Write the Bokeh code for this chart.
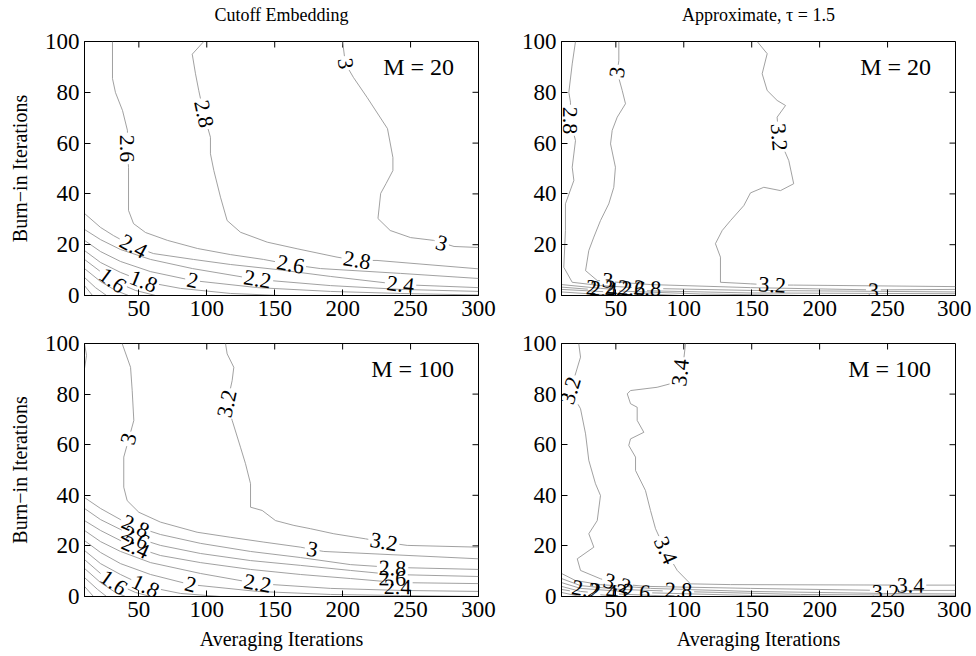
import math
from bokeh.plotting import figure
from bokeh.layouts import column, row
from bokeh.models import Range1d, FixedTicker, ColumnDataSource
from bokeh.core.properties import value
from bokeh.embed import file_html
from bokeh.resources import INLINE

FONT = "Liberation Serif"

# ---------------- data ----------------
x_ticks = [50, 100, 150, 200, 250, 300]
y_ticks = [0, 20, 40, 60, 80, 100]
x_limits = (10, 300)
y_limits = (0, 100)

column_titles = ["Cutoff Embedding", "Approximate, \u03c4 = 1.5"]
m_labels = ["M = 20", "M = 20", "M = 100", "M = 100"]
x_axis_label = "Averaging Iterations"
y_axis_label = "Burn\u2212in Iterations"

# contour lines: (level, averaging iterations, burn-in iterations)
cutoff_m20_contours = [
    (3.0, [200, 202, 208, 218, 233, 237, 237, 232, 228, 226, 235, 250, 267, 282, 300],
          [100, 91.3, 85.8, 78, 65.7, 54.3, 49.2, 44.1, 40.2, 30.3, 25.6, 22.8, 21.7, 19.3, 18.9]),
    (2.8, [97.8, 89.3, 91.7, 94.1, 97.8, 102.7, 102.7, 105.2, 110.1, 115, 124.8, 144.5, 166.5, 195.9, 210.6, 225.3, 300],
          [100, 95, 87.3, 80.7, 71.5, 62.3, 55.8, 49.2, 38.7, 29.5, 24.9, 21, 18.4, 15.1, 13.8, 13.8, 10.5]),
    (2.6, [30.6, 30.6, 32.8, 38, 41.6, 41.6, 42.4, 42.4, 46.1, 54.9, 71.1, 93.2, 117.5, 141.7, 161.6, 183.7, 242.6, 300],
          [100, 85.4, 79.9, 72.8, 65, 57.9, 50.4, 33.5, 28.3, 24.8, 21.7, 18.5, 16.1, 14.2, 12.2, 10.6, 8.7, 6.7]),
    (2.4, [10, 21.8, 31.3, 46.1, 60.8, 90.2, 117.5, 152, 191.1, 242.6, 300],
          [32.3, 26.8, 23.6, 19.3, 16.5, 14.2, 12.2, 10.2, 7.5, 4.3, 3.1]),
    (2.2, [10, 21.8, 36.5, 58.6, 89.5, 137.3, 191.1, 242.6, 300],
          [26, 22, 18.1, 14.2, 10.6, 6.3, 3.9, 2.4, 1.6]),
    (2.0, [10, 21.8, 36.5, 58.6, 89.5, 137.3, 191.1, 242.6, 300],
          [21.7, 17.3, 13.4, 9.4, 5.9, 3.1, 1.6, 0.8, 0.2]),
    (1.8, [10, 21.8, 36.5, 53.4, 80.7, 117.5, 154.3],
          [17.7, 13, 9.1, 5.5, 2.8, 0.8, 0]),
    (1.6, [10, 21.8, 30.6, 47.5, 62.3], [14.2, 9.4, 5.9, 2, 0]),
    (1.4, [10, 21.8, 32.8, 42.4], [10.6, 5.5, 2, 0]),
    (1.2, [10, 18.1, 26.2], [7.1, 3.1, 0]),
    (1.0, [10, 15.9], [3.9, 0]),
]
cutoff_m20_labels = [
    (3.0, 202, 91.3), (3.0, 272.8, 20.5), (2.8, 97.8, 71.5), (2.8, 210.6, 13.8),
    (2.6, 41.6, 57.9), (2.6, 161.6, 12.2), (2.4, 46.1, 19.3), (2.4, 242.6, 4.3),
    (2.2, 137.3, 6.3), (2.0, 89.5, 5.9), (1.8, 53.4, 5.5), (1.6, 30.6, 5.9),
]

approx_m20_contours = [
    (3.2, [154, 161.4, 157.7, 161.4, 168.7, 174.9, 168.7, 169.9, 177.3, 180.9, 171.2, 158.9, 149.1, 144.2, 134.4, 128.3, 123.3, 127, 127, 149.1, 165.1, 180.8, 300],
          [100, 95.2, 87.3, 80.7, 76.8, 74.8, 70.2, 62.3, 53.1, 44, 41.3, 42.6, 40.4, 35.4, 29.5, 25.6, 20.4, 15.1, 5.2, 4.6, 4.1, 4.1, 3.5]),
    (3.0, [52.2, 52.2, 51, 54.7, 57.1, 51, 47.3, 46.1, 49.7, 48.5, 44.8, 38.7, 33.8, 30.1, 27.7, 36.3, 43.9, 75.5, 149.1, 239.6, 300],
          [100, 92.5, 87.9, 80.7, 75.5, 70.2, 65, 59.7, 50.5, 42.6, 36.1, 29.5, 23, 17.7, 9.8, 5.9, 5.5, 4.3, 3.1, 2.2, 2.4]),
    (2.8, [20.3, 17.9, 15.4, 16.6, 16.6, 20.3, 17.9, 19.1, 12.9, 12.9, 11.7, 17.9, 38.7, 73.3, 149.1, 300],
          [100, 91.2, 80, 76.1, 68.9, 61, 50.5, 45.3, 36.1, 25.6, 11.1, 5.2, 3.9, 2.8, 2, 1.4]),
    (2.6, [10, 38.7, 61.5, 149.1, 300], [4.3, 2.8, 2, 1, 0.7]),
    (2.4, [10, 40.9, 112.3, 185.9], [3.3, 2, 0.6, 0]),
    (2.2, [10, 52, 97.6], [2.4, 1.2, 0]),
    (2.0, [10, 32.1, 53.4], [1.4, 0.6, 0]),
]
approx_m20_labels = [
    (2.8, 16.6, 68.9), (3.0, 51, 87.9), (3.2, 169.9, 62.3), (3.2, 165.1, 4.1),
    (3.0, 43.9, 5.9), (3.0, 239.6, 1.8), (2.0, 32.1, 3.1), (2.4, 40.9, 2.4),
    (2.2, 52, 2.8), (2.6, 61.5, 2.8), (2.8, 73.3, 2.8),
]

cutoff_m100_contours = [
    (3.2, [113.8, 115, 119.9, 118.7, 115, 118.7, 124.8, 128.5, 132.2, 132.2, 140.8, 150.6, 164.1, 176.3, 193.5, 216.8, 230.3, 247.5, 300],
          [100, 95.9, 90.6, 85.4, 76.2, 69.6, 59, 52.5, 44.6, 35.3, 34, 30, 28.1, 26.8, 24.8, 22.8, 21.5, 20.2, 19.5]),
    (3.0, [37.7, 43.9, 45.1, 46.3, 42.6, 38.9, 38.9, 41.4, 50, 65.9, 92.9, 117.5, 142, 169, 177.6, 186.1, 300],
          [100, 90.6, 81.4, 69.6, 62.3, 55.1, 43.2, 37.9, 33.3, 29.4, 25.4, 23.4, 21.5, 19.5, 18.6, 17.8, 14.9]),
    (2.8, [10, 11.5, 10], [100, 95.3, 90.1]),
    (2.8, [10, 21.8, 36.5, 47.5, 65.9, 95.4, 132.2, 169, 205.8, 236.7, 300],
          [39.1, 34.8, 30.4, 27.7, 24.5, 21, 17.8, 15.4, 12.6, 11.5, 10.7]),
    (2.6, [10, 21.8, 36.5, 47.5, 65.9, 95.4, 132.2, 169, 205.8, 236.7, 300],
          [34.8, 30.4, 26.5, 23.3, 20.2, 17, 14.2, 12.3, 10.3, 8.7, 7.9]),
    (2.4, [10, 21.8, 36.5, 47.5, 65.9, 95.4, 132.2, 169, 205.8, 240.4, 300],
          [30, 26.1, 22.1, 19.4, 16.2, 13.4, 10.7, 8.7, 7.1, 5.5, 5.1]),
    (2.2, [10, 21.8, 36.5, 58.6, 95.4, 137.3, 191.1, 242.6, 300],
          [26.1, 21.7, 17.8, 13.4, 9.1, 5.1, 3.2, 2.4, 2]),
    (2.0, [10, 21.8, 36.5, 58.6, 88, 137.3, 191.1, 242.6, 300],
          [22.1, 17.4, 13, 8.7, 4.7, 2, 0.8, 0.4, 0]),
    (1.8, [10, 21.8, 36.5, 54.9, 80.7, 110.1], [18.2, 13, 8.7, 4, 1.2, 0]),
    (1.6, [10, 21.8, 31.3, 47.5, 58.6], [14.6, 9.1, 5.5, 1.6, 0]),
    (1.4, [10, 21.8, 32.8, 40.2], [11.1, 5.5, 1.6, 0]),
    (1.2, [10, 19.6, 26.2], [7.5, 2.8, 0]),
    (1.0, [10, 16.6], [4, 0]),
]
cutoff_m100_labels = [
    (3.2, 115, 76.2), (3.2, 230.3, 21.5), (3.0, 42.6, 62.3), (3.0, 177.6, 18.6),
    (2.8, 47.5, 27.7), (2.8, 236.7, 11.1), (2.6, 47.5, 23.3), (2.6, 236.7, 7.1),
    (2.4, 47.5, 19.4), (2.4, 240.4, 3.7), (2.2, 137.3, 5.1), (2.0, 88, 4.7),
    (1.8, 54.9, 4), (1.6, 31.3, 5.5),
]

approx_m100_contours = [
    (3.4, [101.3, 98.8, 90.2, 80.4, 60.8, 58.4, 60.8, 65.7, 65.7, 70.6, 60.8, 59.5, 64.5, 64.5, 71.8, 75.5, 79.2, 86.5, 95.2, 104.9, 134.4, 266.9, 300],
          [100, 88, 84.1, 82.7, 81.4, 80.1, 76.2, 74.8, 69.6, 64.9, 62.3, 59.7, 55.1, 49.8, 41.9, 34, 26.8, 18.2, 10.3, 5, 4.7, 4.5, 4.5]),
    (3.2, [22.7, 24, 16.6, 24, 27.7, 30.1, 35, 38.7, 36.3, 30.1, 33.8, 21.6, 24, 38.7, 51, 72.6, 149.1, 247, 300],
          [100, 94.6, 81.4, 74.2, 64.3, 53.8, 44.6, 39.9, 30, 24.8, 19.5, 14.9, 10.3, 7, 5, 4, 3.2, 2.4, 2.4]),
    (3.0, [10, 20.3, 38.7, 75.5, 149.1, 247, 300], [9.1, 6.3, 4.7, 3.2, 2, 1.2, 1]),
    (2.8, [10, 24, 53.4, 96.1, 185.9, 300], [7.1, 4.3, 2.8, 2, 0.8, 0.4]),
    (2.6, [10, 24, 65.2, 149.1, 222.7], [5.5, 3.2, 1.6, 0.4, 0]),
    (2.4, [10, 24, 40.9, 97.6], [4, 2, 1.2, 0]),
    (2.2, [10, 27.7, 53.4], [2.8, 1.2, 0]),
    (2.0, [10, 24], [1.6, 0]),
]
approx_m100_labels = [
    (3.2, 16.6, 81.4), (3.2, 51, 5), (3.4, 97.6, 88.5), (3.4, 86.5, 18.2),
    (3.4, 266.9, 4.3), (3.2, 248.5, 1.8), (2.2, 27.7, 2.8), (2.4, 40.9, 2),
    (3.0, 54.2, 1.8), (2.6, 65.2, 1.8), (2.8, 96.1, 2.4),
]

# ---------------- helpers ----------------
FRAME_W = 394
LABEL_FS = 22
TICK_FS = "23px"
LINE_COLOR = "#909090"
TITLE_H = 26


def fmt(level):
    return f"{level:g}"


def text_width(s, fs):
    return sum(0.25 * fs if ch == "." else 0.5 * fs for ch in s)


def nearest_angle(pieces, lx, ly, sx, sy):
    best = None
    px, py = lx * sx, ly * sy
    for xs, ys in pieces:
        for i in range(len(xs) - 1):
            ax, ay = xs[i] * sx, ys[i] * sy
            bx, by = xs[i + 1] * sx, ys[i + 1] * sy
            dx, dy = bx - ax, by - ay
            l2 = dx * dx + dy * dy
            if l2 == 0:
                continue
            t = max(0.0, min(1.0, ((px - ax) * dx + (py - ay) * dy) / l2))
            qx, qy = ax + t * dx, ay + t * dy
            d = (px - qx) ** 2 + (py - qy) ** 2
            if best is None or d < best[0]:
                best = (d, math.degrees(math.atan2(dy, dx)))
    ang = best[1] if best else 0.0
    if ang > 90:
        ang -= 180
    if ang < -90:
        ang += 180
    return ang


def cut_line(xs, ys, circles, sx, sy):
    pieces = []
    cur = None
    for i in range(len(xs) - 1):
        ax, ay = xs[i] * sx, ys[i] * sy
        bx, by = xs[i + 1] * sx, ys[i + 1] * sy
        dx, dy = bx - ax, by - ay
        a = dx * dx + dy * dy
        hidden = []
        if a > 0:
            for cx, cy, r in circles:
                fx, fy = ax - cx, ay - cy
                b = 2 * (fx * dx + fy * dy)
                c = fx * fx + fy * fy - r * r
                disc = b * b - 4 * a * c
                if disc <= 0:
                    continue
                sq = math.sqrt(disc)
                lo = max((-b - sq) / (2 * a), 0.0)
                hi = min((-b + sq) / (2 * a), 1.0)
                if lo < hi:
                    hidden.append((lo, hi))
        hidden.sort()
        vis = []
        t = 0.0
        for lo, hi in hidden:
            if lo > t:
                vis.append((t, lo))
            t = max(t, hi)
        if t < 1.0:
            vis.append((t, 1.0))

        def pt(tt):
            return (xs[i] + tt * (xs[i + 1] - xs[i]), ys[i] + tt * (ys[i + 1] - ys[i]))

        if not vis:
            if cur is not None and len(cur) >= 2:
                pieces.append(cur)
            cur = None
            continue
        for t0, t1 in vis:
            if t0 == 0.0 and cur is not None:
                cur.append(pt(t1))
            else:
                if cur is not None and len(cur) >= 2:
                    pieces.append(cur)
                cur = [pt(t0), pt(t1)]
            if t1 < 1.0:
                pieces.append(cur)
                cur = None
    if cur is not None and len(cur) >= 2:
        pieces.append(cur)
    return pieces


def style_axis(ax, ticks):
    ax.ticker = FixedTicker(ticks=ticks)
    ax.major_tick_in = 6
    ax.major_tick_out = 0
    ax.minor_tick_in = 0
    ax.minor_tick_out = 0
    ax.axis_line_color = "black"
    ax.major_tick_line_color = "black"
    ax.major_label_text_font = FONT
    ax.major_label_text_font_size = TICK_FS
    ax.major_label_text_color = "black"
    ax.major_label_standoff = 5


def make_title(title, left, right):
    t = figure(frame_width=FRAME_W, frame_height=TITLE_H,
               x_range=Range1d(*x_limits), y_range=Range1d(0, TITLE_H),
               output_backend="svg", toolbar_location=None, tools="",
               x_axis_location=None, y_axis_location=None,
               min_border_left=left, min_border_right=right,
               min_border_top=0, min_border_bottom=0,
               background_fill_color="white", border_fill_color="white")
    t.grid.visible = False
    t.outline_line_color = None
    t.text(x=[(x_limits[0] + x_limits[1]) / 2], y=[TITLE_H - 14], text=[title],
           text_font=value(FONT), text_font_size=value("18px"),
           text_align="center", text_baseline="middle", text_color="black")
    return t


def make_panel(contours, labels, mtext, frame_h, xlabel, ylabel, borders):
    left, right, top, bottom = borders
    p = figure(frame_width=FRAME_W, frame_height=frame_h,
               x_range=Range1d(*x_limits), y_range=Range1d(*y_limits),
               output_backend="svg", toolbar_location=None, tools="",
               title=None,
               min_border_left=left, min_border_right=right,
               min_border_top=top, min_border_bottom=bottom,
               background_fill_color="white", border_fill_color="white")
    p.grid.visible = False
    p.outline_line_color = "black"
    p.outline_line_alpha = 1
    p.outline_line_width = 1

    xax = p.xaxis[0]
    yax = p.yaxis[0]
    style_axis(xax, x_ticks)
    style_axis(yax, y_ticks)

    # inward ticks on the top and right edges of the box
    p.ray(x=x_ticks, y=[y_limits[1]] * len(x_ticks), length=6, length_units="screen",
          angle=-90, angle_units="deg", line_color="black", line_width=1)
    p.ray(x=[x_limits[1]] * len(y_ticks), y=y_ticks, length=6, length_units="screen",
          angle=180, angle_units="deg", line_color="black", line_width=1)

    if xlabel:
        xax.axis_label = xlabel
        xax.axis_label_text_font = FONT
        xax.axis_label_text_font_size = "20px"
        xax.axis_label_text_font_style = "normal"
        xax.axis_label_text_color = "black"
        xax.axis_label_standoff = 8
    if ylabel:
        yax.axis_label = ylabel
        yax.axis_label_text_font = FONT
        yax.axis_label_text_font_size = "20px"
        yax.axis_label_text_font_style = "normal"
        yax.axis_label_text_color = "black"
        yax.axis_label_standoff = 11

    sx = FRAME_W / (x_limits[1] - x_limits[0])
    sy = frame_h / (y_limits[1] - y_limits[0])

    # contour lines with gaps where labels sit
    mxs, mys = [], []
    for level, xs, ys in contours:
        circles = []
        for lv, lx, ly in labels:
            if abs(lv - level) < 1e-9:
                r = text_width(fmt(lv), LABEL_FS) / 2 + 2
                circles.append((lx * sx, ly * sy, r))
        for piece in cut_line(xs, ys, circles, sx, sy):
            mxs.append([q[0] for q in piece])
            mys.append([q[1] for q in piece])
    p.multi_line(xs=mxs, ys=mys, line_color=LINE_COLOR, line_width=0.85)

    # contour labels rotated along their lines
    lxs, lys, ltxt, lang = [], [], [], []
    for lv, lx, ly in labels:
        pieces = [(xs, ys) for level, xs, ys in contours if abs(level - lv) < 1e-9]
        lxs.append(lx)
        lys.append(ly)
        ltxt.append(fmt(lv))
        lang.append(nearest_angle(pieces, lx, ly, sx, sy))
    src = ColumnDataSource(dict(x=lxs, y=lys, text=ltxt, angle=lang))
    p.text(x="x", y="y", text="text", angle="angle", angle_units="deg", source=src,
           text_font=value(FONT), text_font_size=value(f"{LABEL_FS}px"),
           text_align="center", text_baseline="middle", text_color="black")

    # M = ... annotation
    p.text(x=[282], y=[90], text=[mtext], text_font=value(FONT),
           text_font_size=value("24px"), text_align="right",
           text_baseline="middle", text_color="black")
    return p


title_l = make_title(column_titles[0], 84, 22)
title_r = make_title(column_titles[1], 61, 16)
tl = make_panel(cutoff_m20_contours, cutoff_m20_labels, m_labels[0], 254,
                None, y_axis_label, (84, 22, 41 - TITLE_H, 36))
tr = make_panel(approx_m20_contours, approx_m20_labels, m_labels[1], 254,
                None, None, (61, 16, 41 - TITLE_H, 36))
bl = make_panel(cutoff_m100_contours, cutoff_m100_labels, m_labels[2], 253,
                x_axis_label, y_axis_label, (84, 22, 12, 62))
br = make_panel(approx_m100_contours, approx_m100_labels, m_labels[3], 253,
                x_axis_label, None, (61, 16, 12, 62))

layout = column(row(title_l, title_r, spacing=0),
                row(tl, tr, spacing=0),
                row(bl, br, spacing=0), spacing=0)

with open("out.html", "w") as f:
    f.write(file_html(layout, INLINE))
